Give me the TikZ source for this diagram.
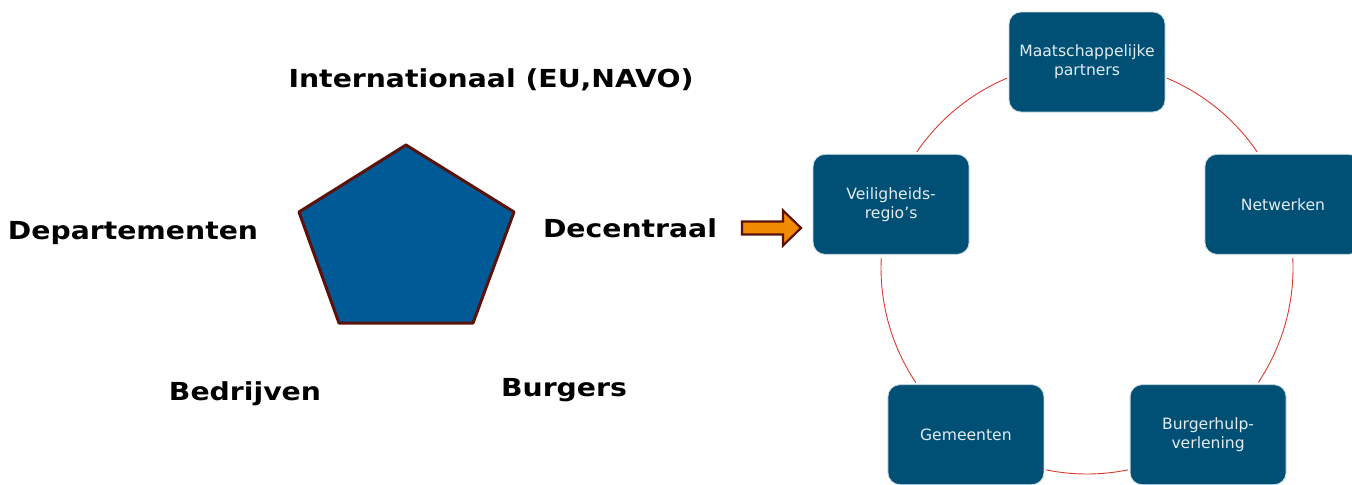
\documentclass[tikz,border=0pt]{standalone}
\usepackage{fontspec}
\setmainfont{DejaVu Sans}
\newfontfamily\headfont{DejaVu Sans}[FakeStretch=1.14]
\usetikzlibrary{calc}

\definecolor{boxblue}{HTML}{004F74}
\definecolor{boxtext}{HTML}{E3ECF1}
\definecolor{ringred}{HTML}{DA3A30}
\definecolor{pentblue}{HTML}{005A96}
\definecolor{pentedge}{HTML}{5C120C}
\definecolor{arroworange}{HTML}{F08A00}

\begin{document}
\begin{tikzpicture}[x=0.5pt, y=0.5pt,
        box/.style = {draw=white!80!boxblue, fill=boxblue, rounded corners=6pt, minimum width=78pt, minimum height=50pt, inner sep=2pt, align=center, text=boxtext, font=\fontsize{7.8}{9.5}\selectfont},
        lbl/.style = {anchor=base, font=\headfont\bfseries\fontsize{12.4}{14}\selectfont},
        ring/.style = {draw=ringred, line width=0.45pt}]
            \useasboundingbox (0,0) rectangle (1352,484);

            % left part
            \node[lbl] (I) at (491,397) {Internationaal (EU,NAVO)};
            \node[lbl] (D) at (133,245) {Departementen};
            \node[lbl] (Dc) at (630,247) {Decentraal};
            \node[lbl] (Bd) at (245,84) {Bedrijven};
            \node[lbl] (Bg) at (564,88) {Burgers};

            \draw[fill=pentblue, draw=pentedge, line width=1.5pt, line join=round]
                (406,339) -- (514,272) -- (473,161) -- (339,161) -- (299,272) -- cycle;

            \draw[fill=arroworange, draw=pentedge, line width=1.1pt, line join=miter]
                (742,249.5) -- (783,249.5) -- (783,238.5) -- (801,256) -- (783,273.5) -- (783,262.5) -- (742,262.5) -- cycle;

            % ring
            \coordinate (C) at (1087,216);
            \draw[ring] (C) ++(112.8:206) arc[start angle=112.8, end angle=145.7, radius=206];
            \draw[ring] (C) ++(34.3:206) arc[start angle=34.3, end angle=67.2, radius=206];
            \draw[ring] (C) ++(-33.7:206) arc[start angle=-33.7, end angle=2.8, radius=206];
            \draw[ring] (C) ++(-101.5:206) arc[start angle=-101.5, end angle=-78.5, radius=206];
            \draw[ring] (C) ++(177.2:206) arc[start angle=177.2, end angle=213.8, radius=206];

            \node[box] (M) at ($(C)+(90:206)$) {Maatschappelijke\\partners};
            \node[box] (V) at ($(C)+(162:206)$) {Veiligheids-\\regio's};
            \node[box] (N) at ($(C)+(18:206)$) {Netwerken};
            \node[box] (G) at ($(C)+(234:206)$) {Gemeenten};
            \node[box] (B) at ($(C)+(306:206)$) {Burgerhulp-\\verlening};
        \end{tikzpicture}
\end{document}
